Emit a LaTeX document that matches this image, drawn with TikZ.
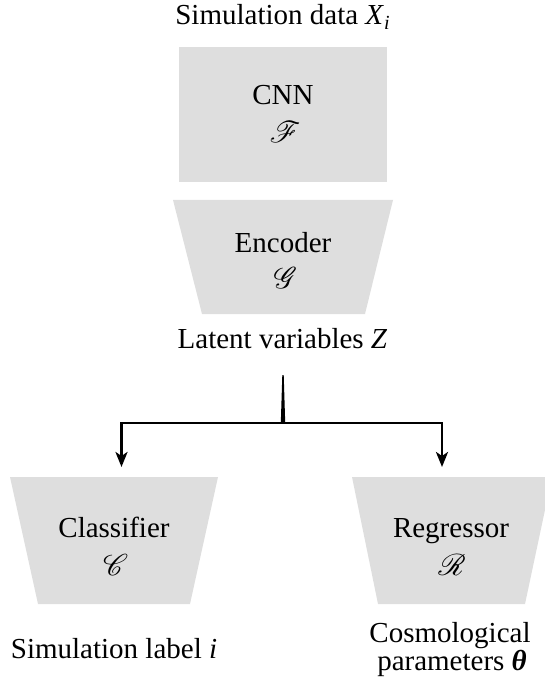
\documentclass[tikz,border=0pt]{standalone}
\usepackage{fontspec}
\setmainfont{Liberation Serif}
\usetikzlibrary{arrows.meta}
\definecolor{blockgray}{RGB}{222,222,222}
% script capitals (rsfs) at block-label size
\font\scrfont=rsfs10 at 30pt
\newcommand{\subidx}[1]{\raisebox{-0.35ex}{\fontsize{20}{20}\selectfont\textit{#1}}}
\tikzset{
  block/.style={fill=blockgray, draw=none},
  lbl/.style={font=\fontsize{29}{33}\selectfont, inner sep=0pt, anchor=base},
  sym/.style={font=\scrfont, inner sep=0pt, anchor=base},
  wire/.style={line width=2.8pt, line join=miter},
  link/.style={wire, -{Stealth[length=15pt,width=12pt,inset=4pt]}},
}
\begin{document}
\begin{tikzpicture}[x=1pt,y=-1pt]
\useasboundingbox (0,0) rectangle (545,684);

% input
\node[lbl] (data) at (282.5,25) {Simulation data \textit{X}\subidx{i}};

% CNN block
\fill[block] (179,47) rectangle (387,182);
\node[lbl] (cnn) at (283,105) {CNN};
\node[sym] (cnnsym) at (283,143) {F};

% encoder block (trapezium narrowing downwards)
\fill[block] (173,200) -- (393,200) -- (365,314) -- (202,314) -- cycle;
\node[lbl] (enc) at (283,253) {Encoder};
\node[sym] (encsym) at (283,288) {G};

% latent space
\node[lbl] (latent) at (282.5,348) {Latent variables \textit{Z}};

% classifier head
\fill[block] (10,477) -- (218,477) -- (190,604) -- (38,604) -- cycle;
\node[lbl] (cls) at (114,537) {Classifier};
\node[sym] (clssym) at (113,575) {C};
\node[lbl] (clsout) at (114,658) {Simulation label \textit{i}};

% regressor head (runs past the right border)
\fill[block] (352,477) -- (552,477) -- (525,604) -- (378,604) -- cycle;
\node[lbl] (reg) at (451,537) {Regressor};
\node[sym] (regsym) at (451,575) {R};
\node[lbl] (regout1) at (450,642) {Cosmological};
\node[lbl] (regout2) at (452,670) {parameters \textbf{\textit{θ}}};

% branching connector
\coordinate (stem) at (283,375);
\coordinate (split) at (283,423);
\coordinate (clsin) at (121.5,467);
\coordinate (regin) at (442,467);
\fill ([xshift=-0.7pt]stem) -- ([xshift=0.7pt]stem) -- ([xshift=2.2pt]split) -- ([xshift=-2.2pt]split) -- cycle;
\draw[link] (split) -| (clsin);
\draw[link] (split) -| (regin);
\end{tikzpicture}
\end{document}
